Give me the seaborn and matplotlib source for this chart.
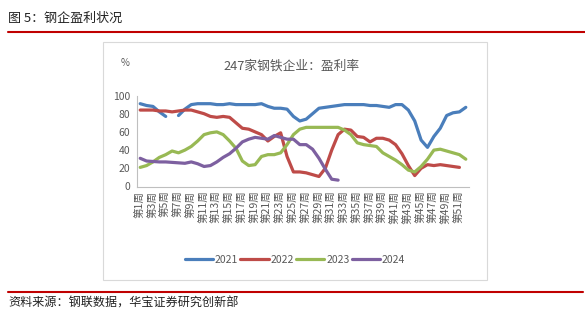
import numpy as np
import pandas as pd
import seaborn as sns
import matplotlib.pyplot as plt
from matplotlib.patches import Rectangle
from matplotlib.lines import Line2D

nan = np.nan
weeks = list(range(1, 53))
years = ["2021", "2022", "2023", "2024"]

y2021 = [91, 89, 88, 82, 77, nan, 78, 85, 90, 91, 91, 91, 90, 90, 91, 90, 90, 90, 90, 91,
         88, 86, 86, 85, 77, 72, 74, 80, 86, 87, 88, 89, 90, 90, 90, 90, 89, 89, 88, 87,
         90, 90, 84, 72, 51, 43, 55, 64, 78, 81, 82, 87]
y2022 = [84, 84, 84, 83, 83, 82, 83, 84, 84, 82, 80, 77, 76, 77, 76, 70, 64, 63, 60, 57,
         50, 55, 59, 33, 16, 16, 15, 13, 11, 20, 40, 57, 63, 62, 55, 54, 49, 53, 53, 51,
         46, 36, 23, 12, 20, 24, 23, 24, 23, 22, 21]
y2023 = [21, 23, 27, 32, 35, 39, 37, 40, 44, 50, 57, 59, 60, 57, 50, 42, 28, 23, 24, 33,
         35, 35, 37, 46, 57, 63, 65, 65, 65, 65, 65, 65, 62, 57, 48, 46, 45, 44, 37, 33,
         29, 24, 18, 16, 22, 30, 40, 41, 39, 37, 35, 30]
y2024 = [31, 28, 27.5, 27, 27, 26.5, 26, 25.5, 27, 25, 22, 23, 27, 32, 36, 42, 49, 52, 54, 53,
         52, 56, 54, 52, 52, 46, 46, 41, 31, 19, 8, 7]

tick_weeks = list(range(1, 52, 2))
tick_labels = [f"第{w}周" for w in tick_weeks]

colors = ["#4A7EBB", "#BE4B48", "#98B954", "#7D60A0"]

# long table; a new unit id after each gap so the line breaks there
rows = []
for yr, vals in zip(years, [y2021, y2022, y2023, y2024]):
    seg = 0
    for w, v in zip(weeks, vals):
        if np.isnan(v):
            seg += 1
            continue
        rows.append({"week": w, "value": v, "year": yr, "seg": f"{yr}_{seg}"})
df = pd.DataFrame(rows)

sns.set_style("white")
plt.rcParams["font.family"] = ["Noto Sans CJK SC", "DejaVu Sans"]

fig = plt.figure(figsize=(5.85, 3.19), dpi=100)
ax = fig.add_axes([137 / 585, 1 - 186.5 / 319, (469 - 137) / 585, (186.5 - 95.5) / 319])

sns.lineplot(data=df, x="week", y="value", hue="year", units="seg", estimator=None,
             hue_order=years, palette=colors, linewidth=2.3, sort=False, ax=ax, legend=False)

grey = "#595959"
ax.set_xlim(0.5, 52.5)
ax.set_ylim(0, 100)
ax.set_yticks(range(0, 101, 20))
ax.set_xticks(tick_weeks)
ax.set_xticklabels(tick_labels, rotation=90, fontsize=7.6, color=grey)
ax.set_xticks(np.arange(0.5, 53, 1), minor=True)
ax.tick_params(axis="x", which="major", length=0, pad=3)
ax.tick_params(axis="x", which="minor", length=3, width=0.6, color="#BFBFBF", direction="out")
ax.tick_params(axis="y", length=3, width=0.6, color="#BFBFBF", direction="out",
               labelsize=7.5, labelcolor=grey, pad=2)
ax.set_xlabel("")
ax.set_ylabel("")
for s in ["top", "right"]:
    ax.spines[s].set_visible(False)
for s in ["left", "bottom"]:
    ax.spines[s].set_color("#BFBFBF")
    ax.spines[s].set_linewidth(0.8)

# chart frame and titles
fig.patches.append(Rectangle((103 / 585, 1 - 280 / 319), 384 / 585, 238 / 319,
                             transform=fig.transFigure, fill=False,
                             edgecolor="#D9D9D9", linewidth=0.8))
fig.text(292 / 585, 1 - 66 / 319, "247家钢铁企业：盈利率", ha="center", va="center",
         fontsize=9.2, color=grey)
fig.text(125 / 585, 1 - 63 / 319, "%", ha="center", va="center", fontsize=7, color=grey)

handles = [Line2D([], [], color=c, linewidth=2.3) for c in colors]
leg = fig.legend(handles, years, loc="center", bbox_to_anchor=(295 / 585, 1 - 260 / 319),
                 ncol=4, frameon=False, fontsize=7.5, handlelength=2.7,
                 handletextpad=0.2, columnspacing=0.2)
for t in leg.get_texts():
    t.set_color(grey)

# report header and footer
fig.text(8 / 585, 1 - 18 / 319, "图 5：钢企盈利状况", ha="left", va="center",
         fontsize=9.4, color="#222222")
fig.add_artist(Line2D([8 / 585, 1.0], [1 - 32 / 319] * 2, transform=fig.transFigure,
                      color="#C00000", linewidth=1.5))
fig.add_artist(Line2D([8 / 585, 583 / 585], [1 - 292 / 319] * 2, transform=fig.transFigure,
                      color="#C00000", linewidth=1.5))
fig.text(8 / 585, 1 - 303 / 319, "资料来源：钢联数据，华宝证券研究创新部", ha="left",
         va="center", fontsize=8.7, color="#222222")

fig.savefig("out.png", dpi=100)
